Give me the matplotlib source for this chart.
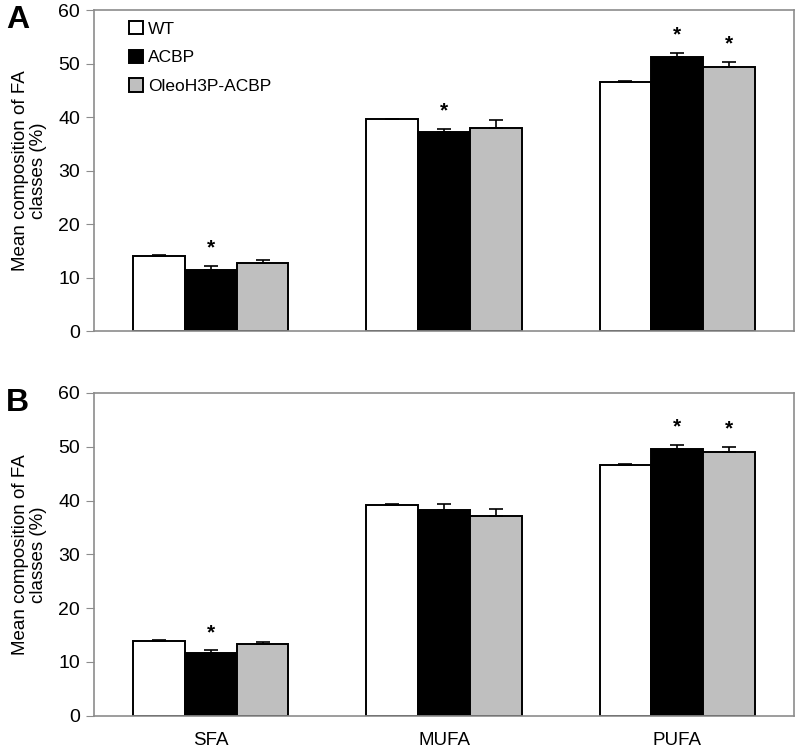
import numpy as np
import matplotlib.pyplot as plt

plt.rcParams['font.family'] = ['Liberation Sans', 'DejaVu Sans']

# FA classes and genotype series
classes = ['SFA', 'MUFA', 'PUFA']
genotypes = ['WT', 'ACBP', 'OleoH3P-ACBP']
colors = ['white', 'black', '#BFBFBF']

# Panel A: means and SE
a_wt = [14.0, 39.6, 46.5]
a_acbp = [11.4, 37.2, 51.3]
a_oleo = [12.7, 38.0, 49.4]
a_wt_err = [0.15, 0.1, 0.2]
a_acbp_err = [0.75, 0.6, 0.7]
a_oleo_err = [0.5, 1.5, 0.9]
# significance flags (per genotype, per class)
a_sig = {'ACBP': [1, 1, 1], 'OleoH3P-ACBP': [0, 0, 1]}

# Panel B
b_wt = [13.9, 39.2, 46.6]
b_acbp = [11.7, 38.2, 49.5]
b_oleo = [13.4, 37.2, 49.1]
b_wt_err = [0.1, 0.1, 0.15]
b_acbp_err = [0.45, 1.1, 0.9]
b_oleo_err = [0.35, 1.3, 0.9]
b_sig = {'ACBP': [1, 0, 1], 'OleoH3P-ACBP': [0, 0, 1]}

fig = plt.figure(figsize=(7.96, 7.54), dpi=100)
axA = fig.add_axes([0.1181, 0.561, 0.8794, 0.4257])
axB = fig.add_axes([0.1181, 0.0508, 0.8794, 0.4280])

x = np.arange(len(classes))
w = 2 / 9  # Excel gap width 50%


def draw(ax, means, errs, sig, show_x, show_legend):
    for i, (m, e, name) in enumerate(zip(means, errs, genotypes)):
        pos = x + (i - 1) * w
        ax.bar(pos, m, width=w, color=colors[i], edgecolor='black',
               linewidth=1.4, label=name, zorder=2)
        ax.errorbar(pos, m, yerr=[np.zeros(len(e)), e], fmt='none',
                    ecolor='black', elinewidth=1.2, capsize=5, capthick=1.2,
                    zorder=3)
        if name in sig:
            for j, s in enumerate(sig[name]):
                if s:
                    ax.text(pos[j], m[j] + e[j] + 3.3, '*', ha='center',
                            va='center', fontsize=15, fontweight='bold')
    ax.set_xlim(-0.5, 2.5)
    ax.set_ylim(0, 60)
    ax.set_yticks(range(0, 61, 10))
    ax.tick_params(axis='y', labelsize=14, length=6, color='#8C8C8C',
                   direction='out', pad=4)
    ax.tick_params(axis='x', length=0, labelsize=13.5, pad=12)
    ax.set_xticks(x)
    if show_x:
        ax.set_xticklabels(classes)
    else:
        ax.set_xticklabels([])
    for sp in ax.spines.values():
        sp.set_color('#8C8C8C')
        sp.set_linewidth(1.2)
    ax.set_ylabel('Mean composition of FA\nclasses (%)', fontsize=13.5,
                  labelpad=8, linespacing=1.1)
    if show_legend:
        ax.legend(loc='upper left', bbox_to_anchor=(0.028, 1.015), frameon=False,
                  fontsize=12.5, handlelength=0.8, handleheight=0.8,
                  handletextpad=0.3, labelspacing=0.75)


draw(axA, [a_wt, a_acbp, a_oleo], [a_wt_err, a_acbp_err, a_oleo_err], a_sig,
     False, True)
draw(axB, [b_wt, b_acbp, b_oleo], [b_wt_err, b_acbp_err, b_oleo_err], b_sig,
     True, False)

fig.text(0.008, 0.974, 'A', fontsize=23, fontweight='bold', va='center')
fig.text(0.008, 0.466, 'B', fontsize=23, fontweight='bold', va='center')

fig.savefig('out.png', dpi=100)
